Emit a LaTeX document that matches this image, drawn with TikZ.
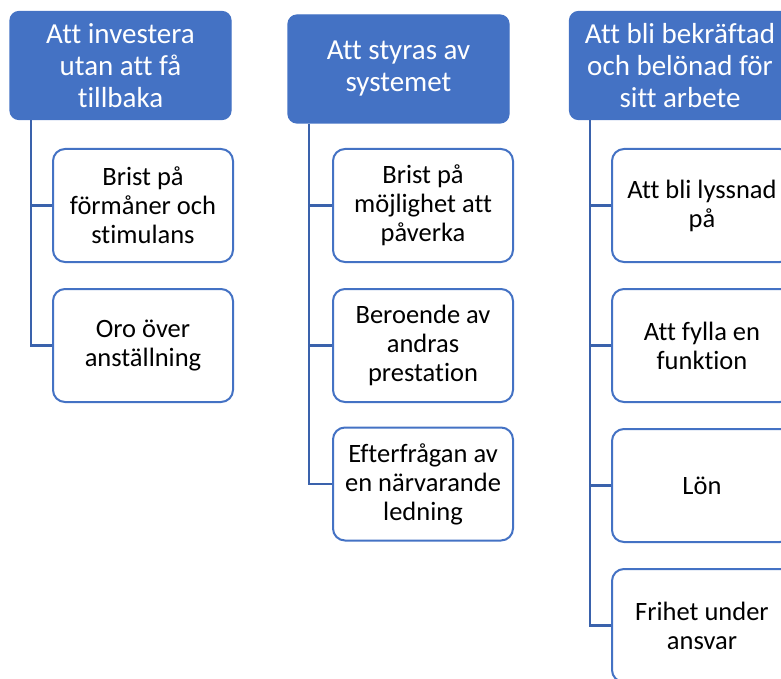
\documentclass[tikz,border=0pt]{standalone}
\usepackage{fontspec}
\setmainfont{Carlito}[Ligatures={NoCommon}]
\definecolor{acc}{HTML}{4472C4}
\definecolor{conn}{HTML}{3A62AC}
\tikzset{
  headbox/.style={draw=acc, fill=acc, line width=1.2pt, rounded corners=9pt,
    minimum width=221pt, minimum height=108pt, inner sep=2pt, align=center,
    text=white, font=\fontsize{29}{32}\selectfont},
  childbox/.style={draw=acc, fill=white, line width=2pt, rounded corners=12pt,
    minimum width=180pt, minimum height=113pt, inner sep=2pt, align=center,
    text=black, font=\fontsize{26.5}{29}\selectfont},
  link/.style={draw=conn, line width=2.4pt}
}
\begin{document}
\begin{tikzpicture}[x=1pt,y=-1pt]
\useasboundingbox (0,0) rectangle (781,679);
\clip (0,0) rectangle (781,679);
% column 1
\node[headbox] (h1) at (120.5,65.5) {Att investera\\utan att få\\tillbaka};
\node[childbox] (c1a) at (143,205.5) {Brist på\\förmåner och\\stimulans};
\node[childbox] (c1b) at (143,345.5) {Oro över\\anställning};
% column 2
\node[headbox] (h2) at (398.5,69) {Att styras av\\systemet};
\node[childbox] (c2a) at (423,205.5) {Brist på\\möjlighet att\\påverka};
\node[childbox] (c2b) at (423,345.5) {Beroende av\\andras\\prestation};
\node[childbox] (c2c) at (423,484) {Efterfrågan av\\en närvarande\\ledning};
% column 3
\node[headbox] (h3) at (680,65.5) {Att bli bekräftad\\och belönad för\\sitt arbete};
\node[childbox] (c3a) at (702,205.5) {Att bli lyssnad\\på};
\node[childbox] (c3b) at (702,345.5) {Att fylla en\\funktion};
\node[childbox] (c3c) at (702,485.5) {Lön};
\node[childbox] (c3d) at (702,625.5) {Frihet under\\ansvar};
% connectors
\coordinate (v1) at (h1.south west -| 31,0);
\coordinate (v2) at (h2.south west -| 309,0);
\coordinate (v3) at (h3.south west -| 590,0);
\draw[link] (v1) |- (c1b.west);
\draw[link] (v1 |- c1a.west) -- (c1a.west);
\draw[link] (v2) |- (c2c.west);
\draw[link] (v2 |- c2a.west) -- (c2a.west);
\draw[link] (v2 |- c2b.west) -- (c2b.west);
\draw[link] (v3) |- (c3d.west);
\draw[link] (v3 |- c3a.west) -- (c3a.west);
\draw[link] (v3 |- c3b.west) -- (c3b.west);
\draw[link] (v3 |- c3c.west) -- (c3c.west);
\end{tikzpicture}
\end{document}
